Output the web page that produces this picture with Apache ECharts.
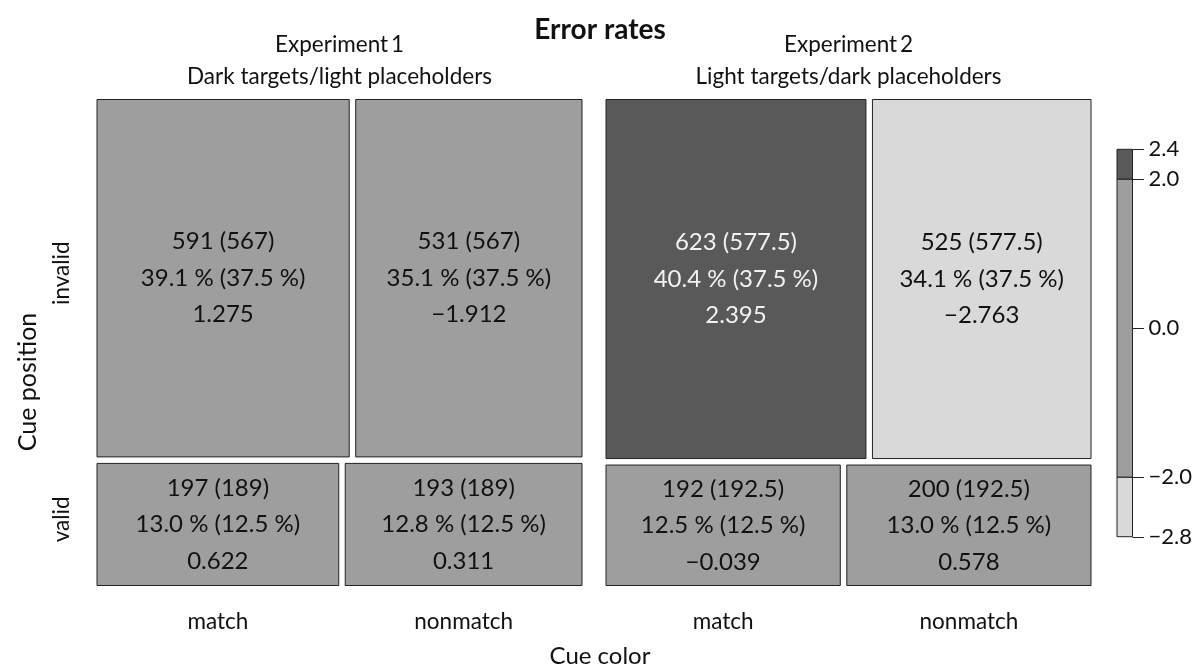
<!DOCTYPE html>
<html><head><meta charset="utf-8">
<script src="https://cdn.jsdelivr.net/npm/echarts@6/dist/echarts.min.js"></script>
<style>html,body{margin:0;padding:0;background:#fff}#c{width:1200px;height:671px}</style>
</head><body><div id="c"></div>
<script>
// ---- data ----
const chartTitle = 'Error rates';
const experimentNames = ['Experiment\u20091', 'Experiment\u20092'];
const experimentDescs = ['Dark targets/light placeholders', 'Light targets/dark placeholders'];
const cuePositions = ['invalid', 'valid'];
const cueColors = ['match', 'nonmatch'];
const xName = 'Cue color';
const yName = 'Cue position';
// observed counts [position][color] per experiment
const observed1 = [[591, 531], [197, 193]];
const observed2 = [[623, 525], [192, 200]];
const expected1 = [[567, 567], [189, 189]];
const expected2 = [[577.5, 577.5], [192.5, 192.5]];
const percent1 = [[39.1, 35.1], [13.0, 12.8]];
const percent2 = [[40.4, 34.1], [12.5, 13.0]];
const expPercent1 = [[37.5, 37.5], [12.5, 12.5]];
const expPercent2 = [[37.5, 37.5], [12.5, 12.5]];
const residuals1 = [[1.275, -1.912], [0.622, 0.311]];
const residuals2 = [[2.395, -2.763], [-0.039, 0.578]];
// legend
const legendBreaks = [-2.8, -2.0, 2.0, 2.4];
const legendFills = ['#d9d9d9', '#9e9e9e', '#595959'];
const legendTicks = [-2.8, -2.0, 0.0, 2.0, 2.4];

const observed = [observed1, observed2];
const expected = [expected1, expected2];
const percent = [percent1, percent2];
const expPercent = [expPercent1, expPercent2];
const residuals = [residuals1, residuals2];

const FONT = 'Lato, "Open Sans", sans-serif';
const GAP = 6.5;
const fmt = v => (v < 0 ? '\u2212' : '') + Math.abs(v).toFixed(3);
const fmtNum = v => String(v);
function fillFor(r) {
  for (let i = 0; i < legendFills.length; i++) {
    if (r >= legendBreaks[i] && r <= legendBreaks[i + 1]) return legendFills[i];
  }
  return r > 0 ? legendFills[legendFills.length - 1] : legendFills[0];
}

function makeRender(e) {
  const obs = observed[e];
  const total = obs.flat().reduce((a, b) => a + b, 0);
  const rowTot = obs.map(r => r.reduce((a, b) => a + b, 0));
  return function (params, api) {
    const p = api.value(0), c = api.value(1);
    let y0 = 0; for (let i = 0; i < p; i++) y0 += rowTot[i] / total;
    const y1 = y0 + rowTot[p] / total;
    let x0 = 0; for (let j = 0; j < c; j++) x0 += obs[p][j] / rowTot[p];
    const x1 = x0 + obs[p][c] / rowTot[p];
    const a = api.coord([x0, y0]), b = api.coord([x1, y1]);
    let L = a[0], R = b[0], T = a[1], B = b[1];
    if (c > 0) L += GAP / 2;
    if (c < obs[p].length - 1) R -= GAP / 2;
    if (p > 0) T += GAP / 2;
    if (p < obs.length - 1) B -= GAP / 2;
    const r = residuals[e][p][c];
    const fill = fillFor(r);
    const dark = r > legendBreaks[2];
    const txt = fmtNum(obs[p][c]) + ' (' + fmtNum(expected[e][p][c]) + ')\n' +
      percent[e][p][c].toFixed(1) + ' % (' + expPercent[e][p][c].toFixed(1) + ' %)\n' + fmt(r);
    const children = [
      { type: 'rect', shape: { x: L, y: T, width: R - L, height: B - T },
        style: { fill: fill, stroke: '#222', lineWidth: 1 } },
      { type: 'text', style: { x: (L + R) / 2, y: (T + B) / 2, text: txt, align: 'center', verticalAlign: 'middle',
        font: '24px ' + FONT, lineHeight: 36.5, fill: dark ? '#f2f2f2' : '#111' } }
    ];
    if (p === obs.length - 1) {
      children.push({ type: 'text', style: { x: (L + R) / 2, y: B + 36, text: cueColors[c], align: 'center',
        verticalAlign: 'middle', font: '22.5px ' + FONT, fill: '#111' } });
    }
    if (e === 0 && c === 0) {
      children.push({ type: 'text', x: 62, y: (T + B) / 2 - 5, rotation: Math.PI / 2,
        style: { x: 0, y: 0, text: cuePositions[p], align: 'center', verticalAlign: 'middle',
          font: '22.5px ' + FONT, fill: '#111' } });
    }
    return { type: 'group', children: children };
  };
}

const cellData = [];
cuePositions.forEach((_, p) => cueColors.forEach((_, c) => cellData.push([p, c])));

const panelLeft = [97, 606], panelW = 485, panelTop = 99.5, panelH = 486;
const legendBox = { left: 1117, top: 149.3, width: 15.5, height: 387.4 };

const option = {
  backgroundColor: '#fff',
  animation: false,
  title: { text: chartTitle, left: 'center', top: 11,
    textStyle: { fontFamily: FONT, fontSize: 28, fontWeight: 'bold', color: '#111' } },
  grid: [
    { left: panelLeft[0], top: panelTop, width: panelW, height: panelH },
    { left: panelLeft[1], top: panelTop, width: panelW, height: panelH },
    legendBox
  ],
  xAxis: [
    { gridIndex: 0, type: 'value', min: 0, max: 1, show: false },
    { gridIndex: 1, type: 'value', min: 0, max: 1, show: false },
    { gridIndex: 2, type: 'value', min: 0, max: 1, show: false }
  ],
  yAxis: [
    { gridIndex: 0, type: 'value', min: 0, max: 1, inverse: true, show: false },
    { gridIndex: 1, type: 'value', min: 0, max: 1, inverse: true, show: false },
    { gridIndex: 2, type: 'value', min: legendBreaks[0], max: legendBreaks[legendBreaks.length - 1],
      position: 'right', splitLine: { show: false },
      axisLine: { show: false },
      axisTick: { show: false },
      axisLabel: { show: true, customValues: legendTicks, margin: 16, color: '#111', fontFamily: FONT, fontSize: 22,
        formatter: v => (v < 0 ? '\u2212' : '') + Math.abs(v).toFixed(1) } }
  ],
  graphic: [
    { type: 'text', x: panelLeft[0] + panelW / 2, y: 45, style: { text: experimentNames[0], align: 'center', verticalAlign: 'middle', font: '22.5px ' + FONT, fill: '#111' } },
    { type: 'text', x: panelLeft[1] + panelW / 2, y: 45, style: { text: experimentNames[1], align: 'center', verticalAlign: 'middle', font: '22.5px ' + FONT, fill: '#111' } },
    { type: 'text', x: panelLeft[0] + panelW / 2, y: 77, style: { text: experimentDescs[0], align: 'center', verticalAlign: 'middle', font: '22.5px ' + FONT, fill: '#111' } },
    { type: 'text', x: panelLeft[1] + panelW / 2, y: 77, style: { text: experimentDescs[1], align: 'center', verticalAlign: 'middle', font: '22.5px ' + FONT, fill: '#111' } },
    { type: 'text', x: 600, y: 656, style: { text: xName, align: 'center', verticalAlign: 'middle', font: '24px ' + FONT, fill: '#111' } },
    { type: 'text', x: 28, y: 382, rotation: Math.PI / 2, style: { text: yName, align: 'center', verticalAlign: 'middle', font: '25px ' + FONT, fill: '#111' } }
  ],
  series: [
    { type: 'custom', xAxisIndex: 0, yAxisIndex: 0, renderItem: makeRender(0), data: cellData, silent: true },
    { type: 'custom', xAxisIndex: 1, yAxisIndex: 1, renderItem: makeRender(1), data: cellData, silent: true },
    { type: 'custom', xAxisIndex: 2, yAxisIndex: 2, silent: true,
      data: legendFills.map((f, i) => [i]),
      renderItem: function (params, api) {
        const i = api.value(0);
        const a = api.coord([0, legendBreaks[i + 1]]), b = api.coord([1, legendBreaks[i]]);
        return { type: 'rect', shape: { x: a[0], y: a[1], width: b[0] - a[0], height: b[1] - a[1] },
          style: { fill: legendFills[i], stroke: '#222', lineWidth: 1 } };
      } },
    { type: 'custom', xAxisIndex: 2, yAxisIndex: 2, silent: true,
      data: legendTicks.map(t => [1, t]),
      renderItem: function (params, api) {
        const pt = api.coord([api.value(0), api.value(1)]);
        const y = Math.round(pt[1]) + 0.5;
        return { type: 'line', shape: { x1: pt[0], y1: y, x2: pt[0] + 11.5, y2: y },
          style: { stroke: '#222', lineWidth: 1 } };
      } }
  ]
};
const chart = echarts.init(document.getElementById('c'), null, { renderer: 'canvas' });
chart.setOption(option);
</script></body></html>
